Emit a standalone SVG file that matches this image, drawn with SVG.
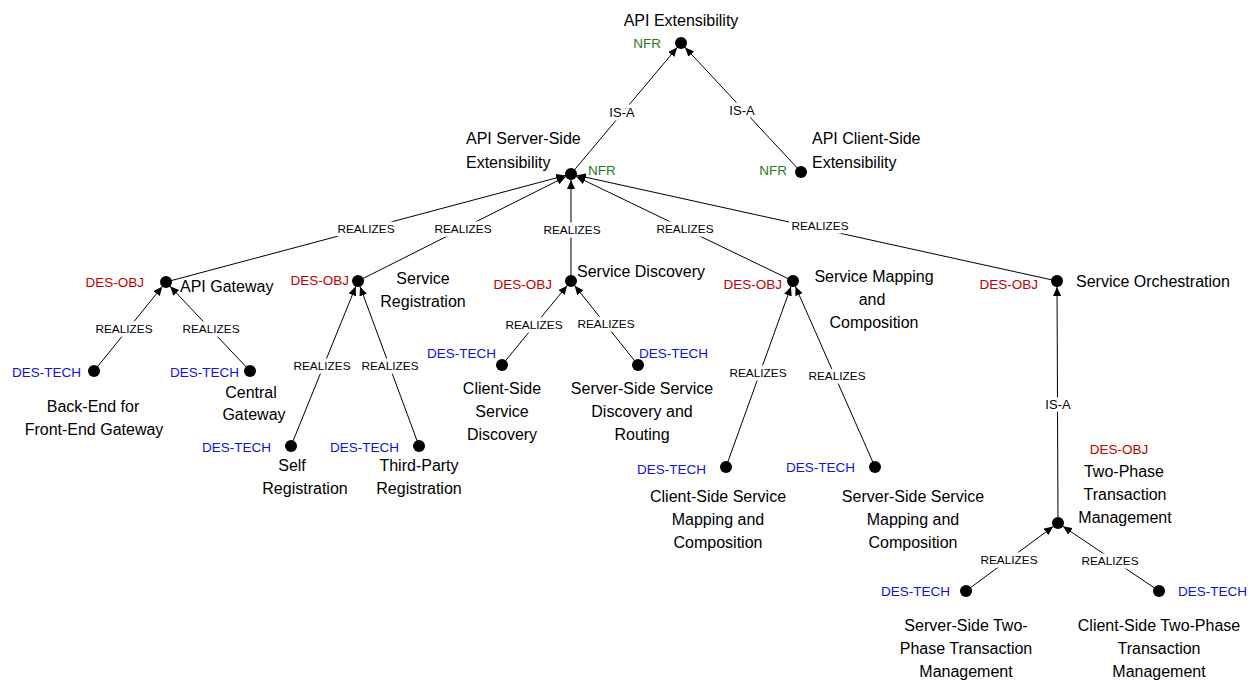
<svg xmlns="http://www.w3.org/2000/svg" width="1260" height="681" viewBox="0 0 1260 681">
<style>
text{font-family:"Liberation Sans",Arial,sans-serif;dominant-baseline:central}
.lbl{font-size:16px;fill:#000}
.c{text-anchor:middle}
.e{text-anchor:end}
.nfr{font-size:13.5px;fill:#2A7A1E}
.obj{font-size:13.5px;fill:#C00000}
.tech{font-size:13.5px;fill:#1010E0}
.el{font-size:11.8px;fill:#000;text-anchor:middle;stroke:#fff;stroke-width:7;paint-order:stroke;stroke-linejoin:round}
.isa{font-size:13px}
.edge line{stroke:#000;stroke-width:1;marker-end:url(#arr)}
circle{fill:#000}
</style>
<defs>
<marker id="arr" markerUnits="userSpaceOnUse" viewBox="0 0 20 8" refX="15" refY="4" markerWidth="20" markerHeight="8" orient="auto"><path d="M0,0 L9,4 L0,8 z" fill="#000"/></marker>
</defs>
<rect width="1260" height="681" fill="#fff"/>
<g id="connectors" class="edge">
<line x1="571" y1="174" x2="681" y2="43"/>
<line x1="801" y1="172" x2="681" y2="43"/>
<line x1="166" y1="282" x2="571" y2="174"/>
<line x1="358" y1="281" x2="571" y2="174"/>
<line x1="571" y1="281" x2="571" y2="174"/>
<line x1="793" y1="281" x2="571" y2="174"/>
<line x1="1057" y1="281" x2="571" y2="174"/>
<line x1="94" y1="371" x2="166" y2="282"/>
<line x1="250" y1="371" x2="166" y2="282"/>
<line x1="291" y1="446" x2="358" y2="281"/>
<line x1="419" y1="446" x2="358" y2="281"/>
<line x1="502" y1="365" x2="571" y2="281"/>
<line x1="638" y1="365" x2="571" y2="281"/>
<line x1="726" y1="467" x2="793" y2="281"/>
<line x1="875" y1="467" x2="793" y2="281"/>
<line x1="1058" y1="523" x2="1057" y2="281"/>
<line x1="966" y1="591" x2="1058" y2="523"/>
<line x1="1159" y1="591" x2="1058" y2="523"/>
<text class="el isa" x="622" y="112">IS-A</text>
<text class="el isa" x="742" y="110">IS-A</text>
<text class="el" x="366" y="229">REALIZES</text>
<text class="el" x="463" y="229">REALIZES</text>
<text class="el" x="572" y="230">REALIZES</text>
<text class="el" x="685" y="229">REALIZES</text>
<text class="el" x="820" y="226">REALIZES</text>
<text class="el" x="124" y="329">REALIZES</text>
<text class="el" x="211" y="329">REALIZES</text>
<text class="el" x="322" y="366">REALIZES</text>
<text class="el" x="390" y="366">REALIZES</text>
<text class="el" x="534" y="325">REALIZES</text>
<text class="el" x="606" y="324">REALIZES</text>
<text class="el" x="758" y="373">REALIZES</text>
<text class="el" x="837" y="376">REALIZES</text>
<text class="el isa" x="1058" y="404">IS-A</text>
<text class="el" x="1009" y="560">REALIZES</text>
<text class="el" x="1110" y="561">REALIZES</text>
</g>
<g id="api-extensibility">
<circle cx="681" cy="43" r="6"/>
<text class="lbl c" x="681" y="20">API Extensibility</text>
<text class="nfr e" x="661" y="43">NFR</text>
</g>
<g id="api-server-side">
<circle cx="571" cy="174" r="6"/>
<text class="lbl" x="466" y="138">API Server-Side</text>
<text class="lbl" x="466" y="162">Extensibility</text>
<text class="nfr" x="588" y="170">NFR</text>
</g>
<g id="api-client-side">
<circle cx="801" cy="172" r="6"/>
<text class="lbl" x="812" y="138">API Client-Side</text>
<text class="lbl" x="812" y="162">Extensibility</text>
<text class="nfr e" x="787" y="170">NFR</text>
</g>
<g id="api-gateway">
<circle cx="166" cy="282" r="6"/>
<text class="obj e" x="144" y="282">DES-OBJ</text>
<text class="lbl" x="180" y="286">API Gateway</text>
</g>
<g id="service-registration">
<circle cx="358" cy="281" r="6"/>
<text class="obj e" x="349" y="280">DES-OBJ</text>
<text class="lbl c" x="423" y="278">Service</text>
<text class="lbl c" x="423" y="301">Registration</text>
</g>
<g id="service-discovery">
<circle cx="571" cy="281" r="6"/>
<text class="obj e" x="552" y="284">DES-OBJ</text>
<text class="lbl" x="577" y="271">Service Discovery</text>
</g>
<g id="service-mapping">
<circle cx="793" cy="281" r="6"/>
<text class="obj e" x="782" y="284">DES-OBJ</text>
<text class="lbl c" x="874" y="276">Service Mapping</text>
<text class="lbl c" x="872" y="299">and</text>
<text class="lbl c" x="874" y="322">Composition</text>
</g>
<g id="service-orchestration">
<circle cx="1057" cy="281" r="6"/>
<text class="obj e" x="1038" y="284">DES-OBJ</text>
<text class="lbl" x="1076" y="281">Service Orchestration</text>
</g>
<g id="two-phase">
<circle cx="1058" cy="523" r="6"/>
<text class="obj c" x="1119" y="449">DES-OBJ</text>
<text class="lbl c" x="1124" y="471">Two-Phase</text>
<text class="lbl c" x="1125" y="494">Transaction</text>
<text class="lbl c" x="1125" y="517">Management</text>
</g>
<g id="back-end-for-front-end">
<circle cx="94" cy="371" r="6"/>
<text class="tech e" x="81" y="372">DES-TECH</text>
<text class="lbl c" x="93" y="406">Back-End for</text>
<text class="lbl c" x="94" y="429">Front-End Gateway</text>
</g>
<g id="central-gateway">
<circle cx="250" cy="371" r="6"/>
<text class="tech e" x="239" y="372">DES-TECH</text>
<text class="lbl c" x="251" y="392">Central</text>
<text class="lbl c" x="254" y="414">Gateway</text>
</g>
<g id="self-registration">
<circle cx="291" cy="446" r="6"/>
<text class="tech e" x="271" y="447">DES-TECH</text>
<text class="lbl c" x="292" y="465">Self</text>
<text class="lbl c" x="305" y="488">Registration</text>
</g>
<g id="third-party-registration">
<circle cx="419" cy="446" r="6"/>
<text class="tech e" x="399" y="447">DES-TECH</text>
<text class="lbl c" x="419" y="465">Third-Party</text>
<text class="lbl c" x="419" y="488">Registration</text>
</g>
<g id="client-side-discovery">
<circle cx="502" cy="365" r="6"/>
<text class="tech e" x="496" y="353">DES-TECH</text>
<text class="lbl c" x="502" y="388">Client-Side</text>
<text class="lbl c" x="502" y="411">Service</text>
<text class="lbl c" x="502" y="434">Discovery</text>
</g>
<g id="server-side-discovery">
<circle cx="638" cy="365" r="6"/>
<text class="tech" x="639" y="353">DES-TECH</text>
<text class="lbl c" x="642" y="388">Server-Side Service</text>
<text class="lbl c" x="642" y="411">Discovery and</text>
<text class="lbl c" x="642" y="434">Routing</text>
</g>
<g id="client-side-mapping">
<circle cx="726" cy="467" r="6"/>
<text class="tech e" x="706" y="469">DES-TECH</text>
<text class="lbl c" x="718" y="496">Client-Side Service</text>
<text class="lbl c" x="718" y="519">Mapping and</text>
<text class="lbl c" x="718" y="542">Composition</text>
</g>
<g id="server-side-mapping">
<circle cx="875" cy="467" r="6"/>
<text class="tech e" x="855" y="467">DES-TECH</text>
<text class="lbl c" x="913" y="496">Server-Side Service</text>
<text class="lbl c" x="913" y="519">Mapping and</text>
<text class="lbl c" x="913" y="542">Composition</text>
</g>
<g id="server-side-two-phase">
<circle cx="966" cy="591" r="6"/>
<text class="tech e" x="950" y="591">DES-TECH</text>
<text class="lbl c" x="966" y="625">Server-Side Two-</text>
<text class="lbl c" x="966" y="648">Phase Transaction</text>
<text class="lbl c" x="966" y="671">Management</text>
</g>
<g id="client-side-two-phase">
<circle cx="1159" cy="591" r="6"/>
<text class="tech" x="1178" y="591">DES-TECH</text>
<text class="lbl c" x="1159" y="625">Client-Side Two-Phase</text>
<text class="lbl c" x="1159" y="648">Transaction</text>
<text class="lbl c" x="1159" y="671">Management</text>
</g>
</svg>
